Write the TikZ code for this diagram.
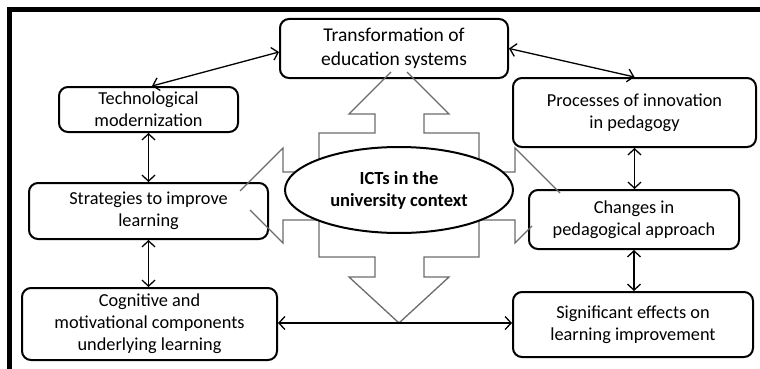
\documentclass[tikz,border=0pt]{standalone}
\usepackage{fontspec}
\setmainfont{Carlito}
\usetikzlibrary{arrows.meta,calc,shapes.geometric}
\definecolor{crossgray}{HTML}{6B6B6B}
\begin{document}
\begin{tikzpicture}[x=1pt,y=-1pt,
 box/.style={draw,line width=2pt,rounded corners=9pt,fill=white,align=center,inner sep=0pt,font=\fontsize{18.3}{22}\selectfont},
 link/.style={line width=1.3pt,{Straight Barb[length=6pt,width=13pt]}-{Straight Barb[length=6pt,width=13pt]}},
 crossline/.style={draw=crossgray,line width=1.3pt,line join=miter}]
\useasboundingbox (0,0) rectangle (760,369);
% frame
\draw[line width=4.5pt] (760,9.5) -- (9.5,9.5) -- (9.5,369);
% boxes
\node[box,minimum width=228pt,minimum height=59pt,font=\fontsize{19.5}{24}\selectfont] (trans) at (394,48.5) {Transformation of\\education systems};
\node[box,minimum width=179pt,minimum height=45pt] (tech) at (148.5,109.5) {Technological\\modernization};
\node[box,minimum width=243pt,minimum height=69pt] (proc) at (634.5,112.5) {Processes of innovation\\in pedagogy};
\node[box,minimum width=239pt,minimum height=56pt] (strat) at (148.5,211) {Strategies to improve\\learning};
\node[box,minimum width=255pt,minimum height=72pt] (cogn) at (149.5,324) {Cognitive and\\motivational components\\underlying learning};
\node[box,minimum width=210pt,minimum height=59pt] (chg) at (634,219.5) {Changes in\\pedagogical approach};
\node[box,minimum width=240pt,minimum height=65pt] (sig) at (633,324.5) {Significant effects on\\learning improvement};
% cross-shaped arrow
\draw[crossline] (391,72) -- (349,114) -- (375,114) -- (375,133) -- (319,133) -- (319,172) -- (283,172) -- (283,148) -- (240,191);
\draw[crossline] (250,210) -- (283,243) -- (283,220) -- (319,220) -- (319,257) -- (375,257) -- (375,277) -- (349,277) -- (399,323) -- (449,277) -- (424,277) -- (424,257) -- (479,257) -- (479,220) -- (515,220) -- (515,243) -- (532,226);
\draw[crossline] (560,193) -- (515,148) -- (515,172) -- (479,172) -- (479,133) -- (424,133) -- (424,114) -- (449,114) -- (407,72);
% ellipse
\node[ellipse,draw,line width=2pt,fill=white,minimum width=228pt,minimum height=86pt,inner sep=0pt,align=center,font=\bfseries\fontsize{18.5}{22}\selectfont] (ict) at (399,190) {ICTs in the\\university context};
% connectors
\draw[link] ($(tech.north)+(3.5,0)$) -- ($(trans.west)+(0,3.5)$);
\draw[link] (trans.east) -- (proc.north);
\draw[link] (tech.south) -- (tech.south |- strat.north);
\draw[link] (strat.south) -- (strat.south |- cogn.north);
\draw[link] (proc.south) -- (proc.south |- chg.north);
\draw[link] (chg.south) -- (chg.south |- sig.north);
\draw[link] (cogn.east |- 0,323) -- (sig.west |- 0,323);
\end{tikzpicture}
\end{document}
